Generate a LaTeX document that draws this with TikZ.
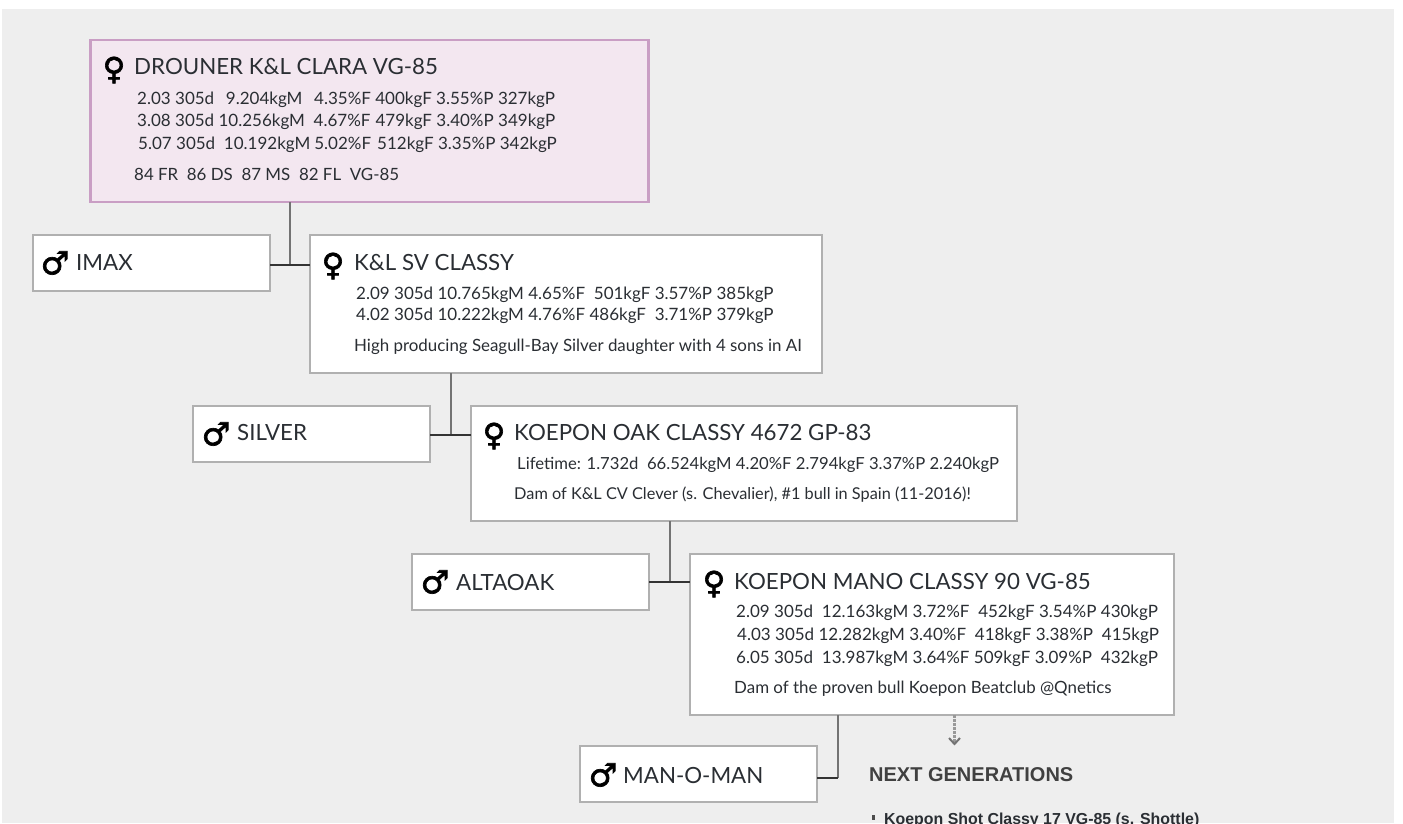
\documentclass[tikz,border=0pt]{standalone}
\usepackage{fontspec}
\setmainfont{Lato}
\newfontfamily\symbfont[FakeBold=2]{DejaVu Sans}
\newfontfamily\headfont{Liberation Sans}
\definecolor{panelgray}{HTML}{EEEEEE}
\definecolor{boxgray}{HTML}{B0B0B0}
\definecolor{clarafill}{HTML}{F3E7F0}
\definecolor{claraline}{HTML}{C99EC4}
\definecolor{inkdark}{HTML}{2A2E33}
\tikzset{
    cowbox/.style={draw=boxgray,line width=2pt,fill=white,anchor=north west,inner sep=0pt,outer sep=0pt},
    clarabox/.style={cowbox,draw=claraline,line width=2.6pt,fill=clarafill},
    title/.style={anchor=west,inner sep=0pt,text=inkdark,font=\fontsize{22.3}{24}\selectfont},
    stat/.style={anchor=west,inner sep=0pt,yshift=-1.5pt,text=inkdark,font=\fontsize{17}{20}\selectfont},
    remark/.style={stat,font=\fontsize{16.9}{20}\selectfont},
    female/.style={inner sep=0pt,text=black,font=\symbfont\fontsize{31}{31}\selectfont},
    male/.style={inner sep=0pt,text=black,font=\symbfont\fontsize{32}{32}\selectfont},
    stem/.style={draw=black!55,line width=2.4pt},
    bar/.style={draw=black!80,line width=1.5pt},
}
\begin{document}
\begin{tikzpicture}[x=1pt,y=-1pt]
    \useasboundingbox (0,0) rectangle (1403,823);
    % Fond
    \fill[panelgray] (2,9) rectangle (1394,823);
    % Boites
    \node[clarabox,minimum width=558pt,minimum height=162pt] (clara) at (90.5,40) {};
    \node[cowbox,minimum width=237pt,minimum height=56pt] (imax) at (33,235) {};
    \node[cowbox,minimum width=512pt,minimum height=138pt] (classy) at (310,235) {};
    \node[cowbox,minimum width=237pt,minimum height=56pt] (silver) at (193,406) {};
    \node[cowbox,minimum width=546pt,minimum height=115pt] (oak) at (471,406) {};
    \node[cowbox,minimum width=237pt,minimum height=56pt] (altaoak) at (412,554) {};
    \node[cowbox,minimum width=484pt,minimum height=161pt] (mano) at (690,554) {};
    \node[cowbox,minimum width=237pt,minimum height=56pt] (manoman) at (580,746) {};
    % Liens
    \coordinate (jimax) at (290,265);
    \coordinate (jsilver) at (451,435);
    \coordinate (jaltaoak) at (670,582);
    \coordinate (jmanoman) at (838,778);
    \draw[stem] (clara.south -| jimax) -- (jimax);
    \draw[bar] (imax.east |- jimax) -- (classy.west |- jimax);
    \draw[stem] (classy.south -| jsilver) -- (jsilver);
    \draw[bar] (silver.east |- jsilver) -- (oak.west |- jsilver);
    \draw[stem] (oak.south -| jaltaoak) -- (jaltaoak);
    \draw[bar] (altaoak.east |- jaltaoak) -- (mano.west |- jaltaoak);
    \draw[stem] (mano.south -| jmanoman) -- (jmanoman);
    \draw[bar] (manoman.east |- jmanoman) -- (jmanoman);
    % Suite
    \coordinate (nextgen) at (954.5,744);
    \draw[black!40,line width=2.6pt,dash pattern=on 2.5pt off 1.5pt] (mano.south -| nextgen) -- (nextgen);
    \draw[black!55,line width=2pt] (949,738) -- (954.5,744) -- (960,738);
    % Symboles
    \node[female] (sclara) at (114,70) {♀};
    \node[male] (simax) at (55,263) {♂};
    \node[female] (sclassy) at (333,266) {♀};
    \node[male] (ssilver) at (216,434) {♂};
    \node[female] (soak) at (494,436) {♀};
    \node[male] (saltaoak) at (435,582) {♂};
    \node[female] (smano) at (714,584) {♀};
    \node[male] (smanoman) at (603,775) {♂};
    % Drouner
    \node[title] (tclara) at (134,67) {DROUNER K\&L CLARA VG-85};
    \node[stat] (clarai) at (137,98) {2.03 305d~\hspace{3pt} 9.204kgM~\hspace{3pt} 4.35\%F 400kgF 3.55\%P 327kgP};
    \node[stat] (claraii) at (137,120) {3.08 305d 10.256kgM~ 4.67\%F\hspace{5pt}479kgF 3.40\%P 349kgP};
    \node[stat] (claraiii) at (138,143) {5.07 305d~ 10.192kgM\hspace{4pt}5.02\%F\hspace{6pt}512kgF 3.35\%P 342kgP};
    \node[remark] (claraiv) at (134,173) {84 FR~ 86 DS~ 87 MS~ 82 FL~ VG-85};
    % Classy
    \node[title] (timax) at (76,263) {IMAX};
    \node[title] (tclassy) at (354,263) {K\&L SV CLASSY};
    \node[stat] (classyi) at (356,293) {2.09 305d 10.765kgM 4.65\%F~ 501kgF 3.57\%P 385kgP};
    \node[stat] (classyii) at (356,314) {4.02 305d 10.222kgM 4.76\%F 486kgF~ 3.71\%P 379kgP};
    \node[remark] (classyiii) at (354,345) {High producing Seagull-Bay Silver daughter with 4 sons in AI};
    % Oak
    \node[title] (tsilver) at (237,433) {SILVER};
    \node[title] (toak) at (514,433) {KOEPON OAK CLASSY 4672 GP-83};
    \node[remark,font=\fontsize{16.65}{20}\selectfont] (oaki) at (517,463) {Lifetime: 1.732d~ 66.524kgM 4.20\%F 2.794kgF 3.37\%P 2.240kgP};
    \node[remark,font=\fontsize{16.3}{20}\selectfont] (oakii) at (514,493) {Dam of K\&L CV Clever (s. Chevalier), \#1 bull in Spain (11-2016)!};
    % Mano
    \node[title] (taltaoak) at (456,582) {ALTAOAK};
    \node[title] (tmano) at (734,581) {KOEPON MANO CLASSY 90 VG-85};
    \node[stat] (manoi) at (736,611) {2.09 305d~ 12.163kgM 3.72\%F~ 452kgF 3.54\%P 430kgP};
    \node[stat] (manoii) at (737,634) {4.03 305d 12.282kgM 3.40\%F~ 418kgF 3.38\%P~ 415kgP};
    \node[stat] (manoiii) at (736,657) {6.05 305d~ 13.987kgM 3.64\%F 509kgF 3.09\%P~ 432kgP};
    \node[remark] (manoiv) at (734,687) {Dam of the proven bull Koepon Beatclub @Qnetics};
    % Next generations
    \node[title] (tmanoman) at (623,775) {MAN-O-MAN};
    \node[anchor=west,inner sep=0pt,text=black!75,font=\headfont\bfseries\fontsize{20}{22}\selectfont] (nexttitle) at (869,775) {NEXT GENERATIONS};
    \fill[black!70] (872,815) rectangle (875,820);
    \node[anchor=base west,inner sep=0pt,text=inkdark,font=\headfont\bfseries\fontsize{15.9}{18}\selectfont] (sonone) at (884,824) {Koepon Shot Classy 17 VG-85 (s. Shottle)};
\end{tikzpicture}
\end{document}
